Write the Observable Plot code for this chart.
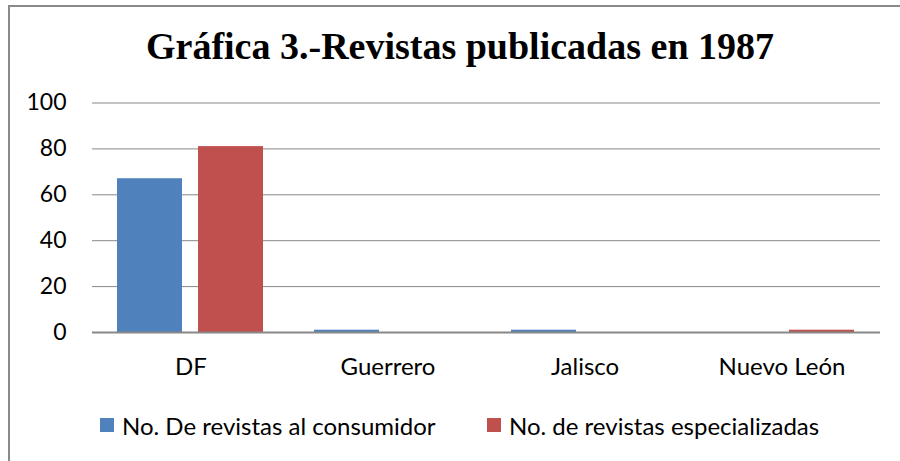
<!DOCTYPE html>
<html>
<head>
<meta charset="utf-8">
<script src="https://cdn.jsdelivr.net/npm/d3@7"></script>
<script src="https://cdn.jsdelivr.net/npm/@observablehq/plot@0.6"></script>
<style>
  html, body { margin: 0; padding: 0; background: #fff; overflow: hidden; }
  #wrap { position: relative; width: 900px; height: 461px; overflow: hidden; background: #fff; }
  #frame { position: absolute; left: 8px; top: 5px; width: 1000px; height: 1000px;
           border-left: 2px solid #898989; border-top: 2px solid #898989; z-index: 5; pointer-events: none; }
  #title { position: absolute; left: 0; top: 25px; width: 920px; text-align: center;
           font-family: "Liberation Serif", "Times New Roman", serif; font-weight: bold;
           font-size: 38px; line-height: 42px; color: #000; white-space: nowrap; }
  #chart { position: absolute; left: 0; top: 80px; }
  #legend { position: absolute; left: 0; top: 411px; width: 900px; height: 28px;
            font-family: Lato, "Liberation Sans", sans-serif; font-size: 24px; color: #000; }
  .item { position: absolute; top: 0; display: flex; align-items: center; height: 28px; white-space: nowrap; }
  .sw { width: 14px; height: 14px; margin-right: 8px; }
  #chart svg g[aria-label="fx-axis tick label"] text { font-size: 24px; }
</style>
</head>
<body>
<div id="wrap">
  <div id="frame"></div>
  <div id="title"></div>
  <div id="chart"></div>
  <div id="legend"></div>
</div>
<script>
const titleText = "Gráfica 3.-Revistas publicadas en 1987";
const categories = ["DF", "Guerrero", "Jalisco", "Nuevo León"];
const seriesNames = ["No. De revistas al consumidor", "No. de revistas especializadas"];
const consumidor = [67, 1, 1, 0];
const especializadas = [81, 0, 0, 1];
const colors = ["#4F81BD", "#C0504D"];
const yTicks = [0, 20, 40, 60, 80, 100];

const data = [];
categories.forEach((c, i) => {
  data.push({cat: c, serie: seriesNames[0], value: consumidor[i]});
  data.push({cat: c, serie: seriesNames[1], value: especializadas[i]});
});

document.getElementById("title").textContent = titleText;

const chart = Plot.plot({
  width: 900,
  height: 310,
  marginLeft: 92,
  marginRight: 20,
  marginTop: 22.5,
  marginBottom: 58,
  style: {fontFamily: "Lato, 'Liberation Sans', sans-serif", fontSize: "23px", color: "#000", background: "transparent"},
  fx: {domain: categories, padding: 0, axis: "bottom", tickSize: 0, tickPadding: 25, label: null},
  x: {domain: seriesNames, paddingInner: 0.195, paddingOuter: 0.299, axis: null},
  y: {domain: [0, 100], ticks: yTicks, tickSize: 0, tickPadding: 26, label: null, grid: false},
  color: {domain: seriesNames, range: colors},
  marks: [
    Plot.gridY(yTicks, {stroke: "#888888", strokeOpacity: 1, strokeWidth: 1}),
    Plot.barY(data, {fx: "cat", x: "serie", y: "value", fill: "serie"}),
    Plot.ruleY([0], {stroke: "#888888", strokeWidth: 2})
  ]
});
document.getElementById("chart").appendChild(chart);

const legend = document.getElementById("legend");
const legendX = [100, 487];
seriesNames.forEach((s, i) => {
  const it = document.createElement("div");
  it.className = "item";
  it.style.left = legendX[i] + "px";
  const sw = document.createElement("div");
  sw.className = "sw";
  sw.style.background = colors[i];
  const tx = document.createElement("span");
  tx.textContent = s;
  it.appendChild(sw);
  it.appendChild(tx);
  legend.appendChild(it);
});
</script>
</body>
</html>
